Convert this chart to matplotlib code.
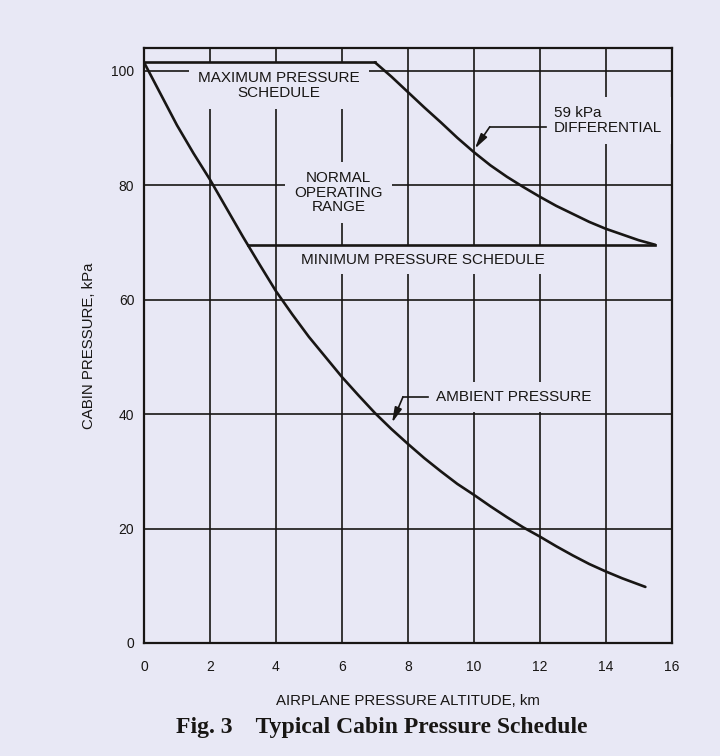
import matplotlib
matplotlib.use("Agg")
import matplotlib.pyplot as plt

# values (altitude km, pressure kPa)
alt_ambient = [0, 0.5, 1, 1.5, 2, 2.5, 3, 3.5, 4, 4.5, 5, 5.5, 6, 6.5, 7, 7.5, 8,
               8.5, 9, 9.5, 10, 10.5, 11, 11.5, 12, 12.5, 13, 13.5, 14, 14.5, 15.2]
p_ambient = [101.5, 96.0, 90.5, 85.6, 81.0, 76.0, 71.0, 66.2, 61.5, 57.4, 53.5, 50.0,
             46.5, 43.3, 40.2, 37.4, 34.8, 32.3, 30.0, 27.8, 25.9, 23.9, 22.0, 20.2,
             18.6, 16.9, 15.3, 13.8, 12.5, 11.3, 9.8]

alt_max = [0, 7.0]
p_max = [101.5, 101.5]

alt_diff = [7.0, 7.5, 8, 8.5, 9, 9.5, 10, 10.5, 11, 11.5, 12, 12.5, 13, 13.5, 14, 14.5, 15, 15.5]
p_diff = [101.5, 99.0, 96.3, 93.6, 91.0, 88.3, 85.8, 83.5, 81.5, 79.7, 78.0, 76.4,
          75.0, 73.6, 72.4, 71.4, 70.4, 69.6]

alt_min = [3.15, 15.5]
p_min = [69.6, 69.6]

xticks = [0, 2, 4, 6, 8, 10, 12, 14, 16]
yticks = [0, 20, 40, 60, 80, 100]

bg = "#e8e8f5"
ink = "#181614"

plt.rcParams["font.family"] = ["Liberation Sans", "DejaVu Sans"]

fig = plt.figure(figsize=(7.2, 7.56), dpi=100, facecolor=bg)
ax = fig.add_axes([0.2, 0.1495, 0.733, 0.787])
ax.set_facecolor(bg)

ax.set_xlim(0, 16)
ax.set_ylim(0, 104)
ax.set_xticks(xticks)
ax.set_yticks(yticks)
ax.set_axisbelow(True)
ax.grid(True, color=ink, linewidth=1.2)
ax.tick_params(length=0, labelsize=10, colors=ink)
ax.tick_params(axis="x", pad=12)
ax.tick_params(axis="y", pad=7)
for s in ax.spines.values():
    s.set_linewidth(1.6)
    s.set_color(ink)

lw = 1.9
ax.plot(alt_ambient, p_ambient, color=ink, lw=lw, zorder=4, solid_capstyle="round")
ax.plot(alt_max, p_max, color=ink, lw=lw, zorder=4)
ax.plot(alt_diff, p_diff, color=ink, lw=lw, zorder=4, solid_capstyle="round")
ax.plot(alt_min, p_min, color=ink, lw=lw, zorder=4)

box = dict(facecolor=bg, edgecolor="none", boxstyle="square,pad=0.6")
ax.text(4.1, 97.4, "MAXIMUM PRESSURE\nSCHEDULE", ha="center", va="center",
        fontsize=11, color=ink, linespacing=1.05, bbox=box, zorder=3)
ax.text(5.9, 78.7, "NORMAL\nOPERATING\nRANGE", ha="center", va="center",
        fontsize=11, color=ink, linespacing=1.05, bbox=box, zorder=3)
ax.text(8.45, 67.0, "MINIMUM PRESSURE SCHEDULE", ha="center", va="center",
        fontsize=11, color=ink, bbox=dict(facecolor=bg, edgecolor="none",
                                          boxstyle="square,pad=0.45"), zorder=3)
ax.text(12.42, 91.3, "59 kPa\nDIFFERENTIAL", ha="left", va="center",
        fontsize=11, color=ink, linespacing=1.05, bbox=box, zorder=3)
ax.text(8.85, 43.0, "AMBIENT PRESSURE", ha="left", va="center",
        fontsize=11, color=ink, bbox=dict(facecolor=bg, edgecolor="none",
                                          boxstyle="square,pad=0.5"), zorder=3)

# leader lines with arrowheads
arrow = dict(arrowstyle="-|>,head_length=0.9,head_width=0.22", color=ink,
             lw=1.2, shrinkA=0, shrinkB=0)
ax.plot([12.2, 10.48], [90.2, 90.2], color=ink, lw=1.2, zorder=5)
ax.annotate("", xy=(10.03, 86.4), xytext=(10.48, 90.2), arrowprops=arrow, zorder=5)
ax.plot([8.62, 7.85], [43.0, 43.0], color=ink, lw=1.2, zorder=5)
ax.annotate("", xy=(7.52, 38.5), xytext=(7.85, 43.0), arrowprops=arrow, zorder=5)

ax.set_xlabel("AIRPLANE PRESSURE ALTITUDE, km", fontsize=10.8, color=ink, labelpad=15)
ax.set_ylabel("CABIN PRESSURE, kPa", fontsize=10.8, color=ink, labelpad=11)

fig.text(0.53, 0.038, "Fig. 3    Typical Cabin Pressure Schedule", ha="center", va="center",
         fontsize=17, fontweight="bold", family=["Liberation Serif", "DejaVu Serif"], color=ink)

fig.savefig("out.png", dpi=100, facecolor=bg)
